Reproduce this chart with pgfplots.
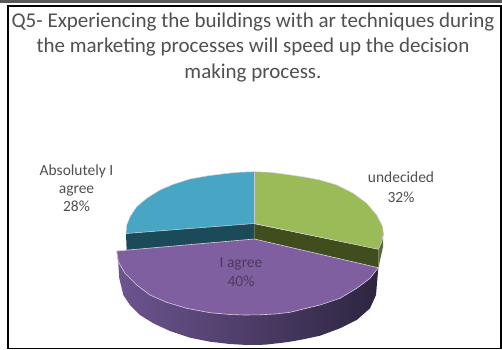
\documentclass[border=0pt]{standalone}
\usepackage{fontspec}
\setmainfont{Carlito}
\usepackage{pgfplots}
\pgfplotsset{compat=1.18}
\definecolor{piegreen}{HTML}{9BBB59}
\definecolor{piegreenside}{HTML}{3F4E1C}
\definecolor{pieblue}{HTML}{46A6C4}
\definecolor{pieblueside}{HTML}{1B4A58}
\definecolor{piepurple}{HTML}{7F5FA0}
\definecolor{sideleft}{HTML}{6D5590}
\definecolor{sidemid}{HTML}{4E3D68}
\definecolor{sideright}{HTML}{2D2540}
\definecolor{edge}{HTML}{D5D0DF}
\definecolor{txt}{HTML}{505050}
\begin{document}
\begin{tikzpicture}
\begin{axis}[
  scale only axis,
  width=502pt, height=349pt,
  xmin=0, xmax=502, ymin=0, ymax=349,
  y dir=reverse,
  hide axis,
  clip=true,
]
% frame
\addplot[draw=none, fill=white, forget plot] coordinates {(0,0) (502,0) (502,349) (0,349)} -- cycle;
\addplot[draw=black!65, line width=3pt, forget plot] coordinates {(0,1.2) (502,1.2)};
\addplot[draw=black, line width=1.8pt, forget plot] coordinates {(8.2,6) (501.2,6) (501.2,348.4) (8.2,348.4)} -- cycle;
% blue side
\addplot[draw=none, fill=pieblueside] coordinates {(254.3,223) (126,233.5) (126.7,252) (254.3,242)} -- cycle;
% green rim and side
\addplot[draw=none, fill=piegreenside!85!white] coordinates {(383.3,233) (382,241) (378.3,249.3) (378.3,268) (380.5,258) (383,247)} -- cycle;
\addplot[draw=none, fill=piegreenside] coordinates {(254.3,224) (378.3,249.3) (378.3,268.5) (254.3,240)} -- cycle;
% green top
\addplot[draw=edge, line width=0.5pt, fill=piegreen] coordinates {
  (254.3,223.5) (254.3,171.7) (270,172.3) (287,174.5) (304,177) (320,180) (336.7,185)
  (353.3,193.3) (366.7,203.3) (376.7,215) (382.7,226.7) (383.3,233) (382,241) (378.3,249.3)} -- cycle;
% blue top
\addplot[draw=edge, line width=0.5pt, fill=pieblue] coordinates {
  (254.3,223.5) (126,233.5) (126.7,225) (130,216.7) (136.7,206.7) (146.7,198.3) (160,190)
  (173.3,184.3) (190,179) (208,175.8) (226,173.5) (240,172.2) (254.3,171.7)} -- cycle;
% purple side
\addplot[draw=none, left color=sideleft, middle color=sidemid, right color=sideright, forget plot] coordinates {
  (116.7,251) (118.3,263.3) (119.3,278.3) (123.3,295) (130,305) (140,315) (153.3,323.3) (170,331)
  (190,337.7) (210,341.7) (230,344) (247,345) (265,344.7) (280,343) (290,341.7) (303.3,339.3)
  (320,335.7) (340,328.3) (356.7,320) (370,308.3) (376,295) (378.3,267.7)} -- cycle;
% purple top
\addplot[draw=edge, line width=0.6pt, fill=piepurple] coordinates {
  (254.3,239) (116.7,251) (118.3,261.7) (125,273.3) (136.7,285) (150,295) (166.7,302.3) (186.7,308.3)
  (210,312.7) (230,314.5) (245,315) (260,314.8) (275,314) (290,312.3) (303.3,309) (320,305)
  (340,298.3) (356.7,288.3) (370,278.3) (378.3,267.7)} -- cycle;
% labels
\node[font=\fontsize{15.5}{18}\selectfont, text=txt, align=center] at (axis cs:76.5,188) {Absolutely I\\agree\\28\%};
\node[font=\fontsize{15.5}{20}\selectfont, text=txt, align=center] at (axis cs:401,187) {undecided\\32\%};
\node[font=\fontsize{15.5}{19}\selectfont, text=black!40!piepurple, align=center] at (axis cs:241,272) {I agree\\40\%};
\node[font=\fontsize{21}{25.5}\selectfont, text=txt, align=center] at (axis cs:253,47.5) {Q5- Experiencing the buildings with ar techniques during\\the marketing processes will speed up the decision\\making process.};
\end{axis}
\end{tikzpicture}
\end{document}
